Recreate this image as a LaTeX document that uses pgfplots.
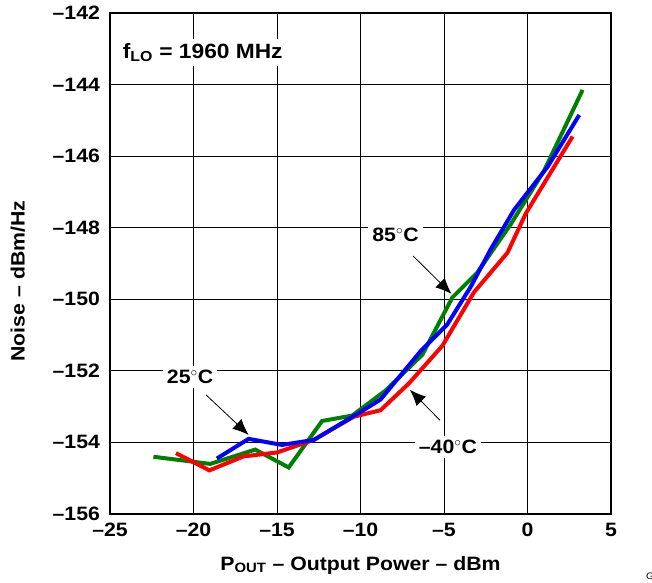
\documentclass[border=0pt]{standalone}
\usepackage{pgfplots}
\pgfplotsset{compat=1.18}
\usepackage{fontspec}
\setmainfont{Liberation Sans}[FakeStretch=1.1]
\usetikzlibrary{arrows.meta}
\newcommand{\lblfont}{\fontsize{14.5}{17}\selectfont\bfseries}
\begin{document}
\begin{tikzpicture}
\begin{axis}[
  scale only axis, width=375.75pt, height=375.75pt,
  xmin=-25, xmax=5, ymin=-156, ymax=-142,
  xtick={-25,-20,...,5}, ytick={-156,-154,...,-142},
  xticklabels={–25,–20,–15,–10,–5,0,5},
  yticklabels={–156,–154,–152,–150,–148,–146,–144,–142},
  tick label style={font=\lblfont},
  yticklabel style={xshift=-4pt},
  xticklabel style={yshift=-3pt},
  major tick length=0pt,
  grid=major, grid style={black, line width=0.75pt},
  axis line style={line width=1.6pt},
  xlabel={P\textsubscript{OUT} – Output Power – dBm},
  ylabel={Noise – dBm/Hz},
  label style={font=\lblfont},
  xlabel style={at={(axis description cs:0.5,-0.102)}, anchor=center},
  ylabel style={at={(axis description cs:-0.184,0.465)}, anchor=center},
  clip=false,
]
\addplot[color={rgb,255:red,0;green,128;blue,0}, line width=3pt] coordinates {
(-22.4,-154.4) (-19,-154.6) (-16.3,-154.2) (-14.3,-154.7) (-12.3,-153.4) (-10.5,-153.25)
(-8.5,-152.55) (-6.3,-151.55) (-4.5,-149.95) (-3,-149.25) (-1,-147.9) (1,-146.4) (3.3,-144.15)};
\addplot[color={rgb,255:red,255;green,0;blue,0}, line width=3pt] coordinates {
(-21.05,-154.3) (-19.05,-154.78) (-17,-154.39) (-15,-154.28) (-12.8,-153.93) (-10.4,-153.28)
(-8.8,-153.1) (-7.1,-152.35) (-5.1,-151.3) (-3.2,-149.8) (-1.2,-148.7) (-0.1,-147.6) (2.7,-145.45)};
\addplot[color={rgb,255:red,0;green,0;blue,255}, line width=3pt] coordinates {
(-18.6,-154.45) (-16.7,-153.9) (-14.7,-154.07) (-12.8,-153.93) (-10,-153.15) (-8.8,-152.8)
(-6.4,-151.45) (-4.8,-150.7) (-3.4,-149.65) (-2.2,-148.6) (-0.8,-147.5) (1.2,-146.3) (3.1,-144.85)};
\node[fill=white, font=\fontsize{15.5}{18}\selectfont\bfseries, inner sep=3pt] at (axis cs:-19.45,-143.1) {f\textsubscript{LO} = 1960 MHz};
\node[fill=white, font=\lblfont, inner sep=3pt] at (axis cs:-7.9,-148.2) {85$^{\circ}$C};
\node[fill=white, font=\lblfont, inner sep=3pt] at (axis cs:-20.2,-152.17) {25$^{\circ}$C};
\node[fill=white, font=\lblfont, inner sep=3pt] at (axis cs:-4.76,-154.12) {–40$^{\circ}$C};
\draw[-{Latex[length=12pt,width=10pt]}, line width=0.6pt] (axis cs:-6.85,-148.79) -- (axis cs:-4.55,-149.85);
\draw[-{Latex[length=12pt,width=10pt]}, line width=0.6pt] (axis cs:-19.25,-152.67) -- (axis cs:-16.7,-153.79);
\draw[-{Latex[length=12pt,width=10pt]}, line width=0.6pt] (axis cs:-5.24,-153.38) -- (axis cs:-7.04,-152.53);
\end{axis}
\path (current axis.south west) ++(-82.5pt,-51pt) coordinate (bbA);
\path (current axis.north east) ++(30.75pt,9.75pt) coordinate (bbB);
\useasboundingbox (bbA) rectangle (bbB);
\node[anchor=south west, font=\fontsize{7}{8}\selectfont, overlay] at ([xshift=-8pt,yshift=-2pt]bbB |- bbA) {G049};
\end{tikzpicture}
\end{document}
